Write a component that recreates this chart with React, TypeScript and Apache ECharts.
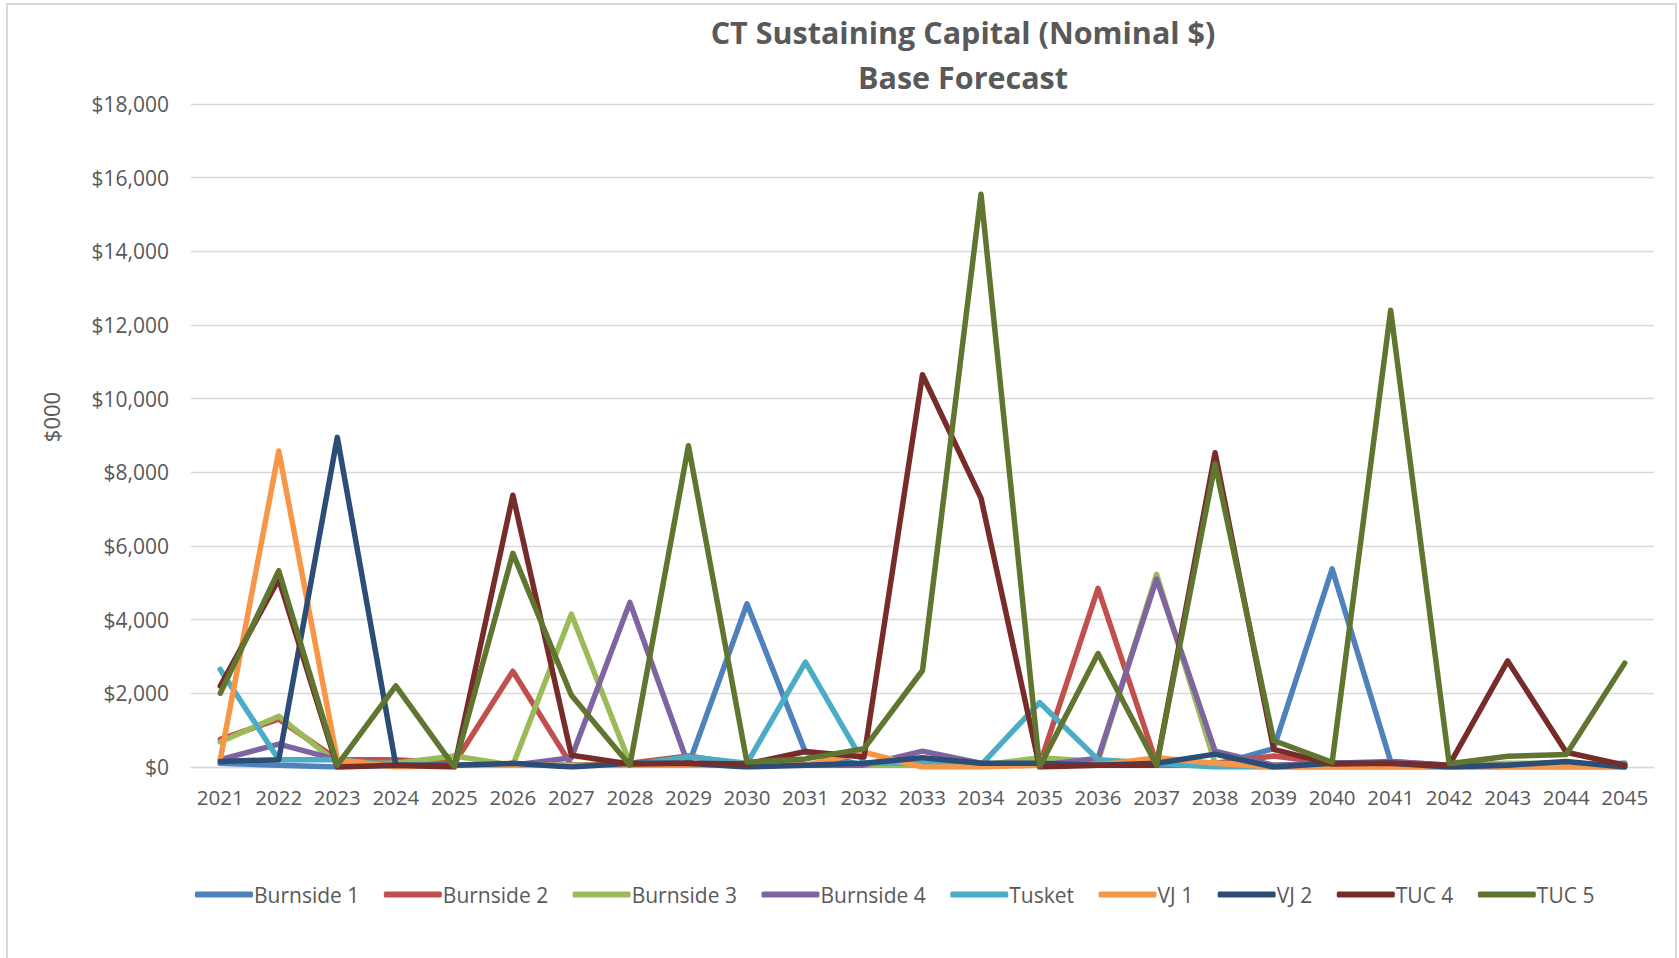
import React, { useEffect, useRef } from "react";
import * as echarts from "echarts";

const years = ["2021","2022","2023","2024","2025","2026","2027","2028","2029","2030","2031","2032","2033","2034","2035","2036","2037","2038","2039","2040","2041","2042","2043","2044","2045"];

const burnside1 = [100, 50, 0, 50, 50, 50, 50, 50, 50, 4430, 400, 50, 50, 50, 50, 50, 50, 50, 500, 5380, 150, 50, 50, 50, 100];
const burnside2 = [750, 1300, 200, 200, 100, 2600, 50, 100, 300, 50, 50, 50, 50, 50, 50, 4850, 100, 100, 300, 100, 50, 50, 50, 50, 50];
const burnside3 = [680, 1380, 100, 100, 300, 50, 4150, 100, 50, 50, 50, 50, 50, 50, 250, 150, 5230, 100, 50, 50, 50, 50, 100, 100, 50];
const burnside4 = [200, 620, 200, 50, 50, 50, 250, 4470, 50, 50, 50, 50, 430, 100, 50, 240, 5100, 430, 50, 100, 150, 50, 50, 50, 50];
const tusket = [2650, 200, 200, 50, 50, 50, 50, 50, 280, 100, 2850, 100, 100, 50, 1750, 200, 100, 0, 0, 0, 0, 0, 0, 0, 0];
const vj1 = [200, 8580, 200, 0, 50, 50, 50, 50, 50, 50, 50, 400, 0, 0, 50, 50, 250, 100, 0, 0, 0, 0, 0, 0, 0];
const vj2 = [150, 200, 8950, 50, 50, 100, 0, 100, 100, 0, 50, 100, 250, 100, 100, 50, 100, 350, 0, 100, 100, 0, 50, 150, 0];
const tuc4 = [2200, 5100, 0, 50, 0, 7380, 320, 80, 100, 80, 420, 270, 10650, 7300, 0, 50, 50, 8530, 480, 80, 100, 50, 2880, 400, 50];
const tuc5 = [2000, 5330, 50, 2200, 0, 5800, 1950, 50, 8720, 130, 220, 500, 2620, 15550, 0, 3080, 50, 8230, 720, 130, 12400, 90, 290, 340, 2820];

const seriesNames = ["Burnside 1", "Burnside 2", "Burnside 3", "Burnside 4", "Tusket", "VJ 1", "VJ 2", "TUC 4", "TUC 5"];
const seriesData = [burnside1, burnside2, burnside3, burnside4, tusket, vj1, vj2, tuc4, tuc5];
const colors = ["#4F81BD", "#C0504D", "#9BBB59", "#8064A2", "#4BACC6", "#F79646", "#2C4D75", "#772C2A", "#5F7530"];

const yTicks = { min: 0, max: 18000, interval: 2000 };

const FONT = "'Open Sans', 'Noto Sans', sans-serif";
const TEXT = "#595959";

export default function App() {
  const ref = useRef<HTMLDivElement>(null);
  useEffect(() => {
    if (!ref.current) return;
    const chart = echarts.init(ref.current, null, { renderer: "svg" });
    const option: any = {
      animation: false,
      backgroundColor: "#ffffff",
      color: colors,
      title: {
        text: "CT Sustaining Capital (Nominal $)\nBase Forecast",
        left: 958,
        top: 4,
        textAlign: "center",
        textStyle: {
          fontFamily: FONT,
          fontWeight: "bold",
          fontSize: 30.5,
          lineHeight: 45,
          color: TEXT,
        },
      },
      grid: { left: 191, right: 25, top: 104, bottom: 191, containLabel: false },
      xAxis: {
        type: "category",
        data: years,
        boundaryGap: true,
        axisLine: { show: true, lineStyle: { color: "#D9D9D9", width: 1.3 } },
        axisTick: { show: false },
        axisLabel: { color: TEXT, fontFamily: FONT, fontSize: 20.5, margin: 19, interval: 0 },
      },
      yAxis: {
        type: "value",
        min: yTicks.min,
        max: yTicks.max,
        interval: yTicks.interval,
        axisLine: { show: false },
        axisTick: { show: false },
        splitLine: { lineStyle: { color: "#D9D9D9", width: 1.3 } },
        axisLabel: {
          color: TEXT,
          fontFamily: FONT,
          fontSize: 21,
          margin: 22,
          formatter: (v: number) => "$" + v.toLocaleString("en-US"),
        },
      },
      legend: {
        data: seriesNames,
        left: 190,
        top: 879,
        icon: "roundRect",
        itemWidth: 58,
        itemHeight: 6,
        itemGap: 24.5,
        textStyle: { color: TEXT, fontFamily: FONT, fontSize: 21, padding: [0, 0, 0, -4] },
      },
      graphic: [
        {
          type: "rect",
          silent: true,
          z: -10,
          shape: { x: 7, y: 4, width: 1669, height: 1000 },
          style: { fill: "none", stroke: "#D9D9D9", lineWidth: 2 },
        },
        {
          type: "text",
          x: 51,
          y: 417,
          rotation: Math.PI / 2,
          style: {
            text: "$000",
            fill: TEXT,
            font: "22px 'Open Sans', sans-serif",
            align: "center",
            verticalAlign: "middle",
          },
        },
      ],
      series: seriesNames.map((name, i) => ({
        name,
        type: "line",
        data: seriesData[i],
        symbol: "none",
        lineStyle: { width: 5.5, color: colors[i], cap: "round", join: "round" },
        itemStyle: { color: colors[i] },
      })),
    };
    chart.setOption(option);
    return () => chart.dispose();
  }, []);
  return (
    <div
      ref={ref}
      style={{ position: "fixed", left: 0, top: 0, width: 1679, height: 958, background: "#fff" }}
    />
  );
}
